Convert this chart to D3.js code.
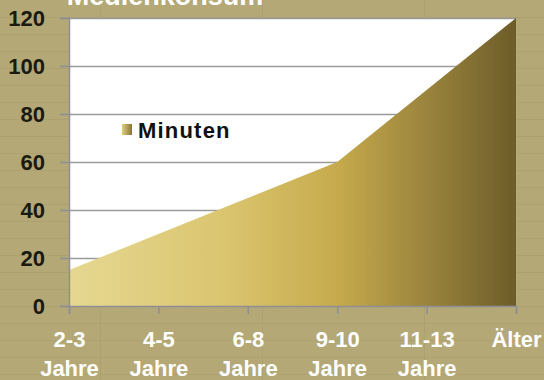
<!DOCTYPE html>
<html><head><meta charset="utf-8">
<script src="https://cdn.jsdelivr.net/npm/d3@7"></script>
<style>html,body{margin:0;padding:0;background:#b3a876;overflow:hidden}</style>
</head><body>
<script>
const categories = ["2-3|Jahre","4-5|Jahre","6-8|Jahre","9-10|Jahre","11-13|Jahre","Älter"];
const minuten = [15, 30, 45, 60, 90, 120];
const yTicks = [0, 20, 40, 60, 80, 100, 120];
const title = "Medienkonsum";
const seriesName = "Minuten";

const W = 544, H = 380;
const m = {l: 69, r: 28, t: 18, b: 74};
const svg = d3.select("body").append("svg").attr("width", W).attr("height", H);
const FONT = "'Liberation Sans', Arial, sans-serif";

// background spreadsheet grid
const bg = svg.append("g");
bg.append("rect").attr("width", W).attr("height", H).attr("fill", "#b3a876");
for (let y = 17; y < H; y += 17) bg.append("line").attr("x1",0).attr("x2",W).attr("y1",y+0.5).attr("y2",y+0.5).attr("stroke","#ada172").attr("stroke-width",1);
[100, 262, 424].forEach(x => bg.append("line").attr("x1",x+0.5).attr("x2",x+0.5).attr("y1",0).attr("y2",H).attr("stroke","#ada172"));

const x = d3.scalePoint().domain(categories).range([m.l, W - m.r]);
const y = d3.scaleLinear().domain([0, 120]).range([H - m.b, m.t]);

const defs = svg.append("defs");
const grad = defs.append("linearGradient").attr("id","g").attr("x1","0%").attr("x2","100%").attr("y1","0%").attr("y2","0%");
[[0,"#e6d891"],[0.35,"#dac56f"],[0.6,"#c7aa4d"],[0.8,"#9a843c"],[1,"#6d5c29"]].forEach(s=>grad.append("stop").attr("offset",s[0]).attr("stop-color",s[1]));
const grad2 = defs.append("linearGradient").attr("id","g2").attr("x1","0%").attr("x2","100%");
[[0,"#e0cf80"],[1,"#8a7430"]].forEach(s=>grad2.append("stop").attr("offset",s[0]).attr("stop-color",s[1]));

// plot area
svg.append("rect").attr("x", m.l).attr("y", m.t).attr("width", W - m.r - m.l).attr("height", H - m.b - m.t).attr("fill", "#fff");

// gridlines
svg.append("g").selectAll("line").data(yTicks.filter(d=>d>0)).join("line")
  .attr("x1", m.l).attr("x2", W - m.r).attr("y1", d => Math.round(y(d))+0.5).attr("y2", d => Math.round(y(d))+0.5)
  .attr("stroke", "#9a9a9a").attr("stroke-width", 1.5);

// area
const area = d3.area().x((d,i)=>x(categories[i])).y0(y(0)).y1(d=>y(d));
svg.append("path").datum(minuten).attr("d", area).attr("fill", "url(#g)");

// y axis
const ya = svg.append("g").attr("transform", `translate(${m.l},0)`)
  .call(d3.axisLeft(y).tickValues(yTicks).tickSize(9).tickPadding(15));
ya.select(".domain").attr("stroke","#8e8e96").attr("stroke-width",1.5);
ya.selectAll(".tick line").attr("stroke","#8e8e96").attr("stroke-width",1.5);
ya.selectAll("text").attr("fill","#1a1a10").attr("font-family",FONT)
  .attr("font-weight","bold").attr("font-size","22px").attr("dy","0.36em");

// x axis
const xa = svg.append("g").attr("transform", `translate(0,${H - m.b})`)
  .call(d3.axisBottom(x).tickSize(8).tickFormat(""));
xa.select(".domain").attr("stroke","#8e8e96").attr("stroke-width",1.5);
xa.selectAll(".tick line").attr("stroke","#8e8e96").attr("stroke-width",1.5);
xa.selectAll(".tick").each(function(d){
  const t = d3.select(this).append("text").attr("fill","#fff").attr("text-anchor","middle")
    .attr("font-family",FONT).attr("font-weight","bold").attr("font-size","22px");
  d.split("|").forEach((s,i)=>t.append("tspan").attr("x",0).attr("y", 41 + i*29).text(s));
});

// legend
svg.append("rect").attr("x",122).attr("y",124).attr("width",10).attr("height",11).attr("fill","url(#g2)");
svg.append("text").attr("x",138).attr("y",138).text(seriesName).attr("fill","#111")
  .attr("font-family",FONT).attr("font-weight","bold").attr("font-size","22px").attr("letter-spacing","1.2px");

// title (cut off at top, as in the reference)
svg.append("text").attr("x",165).attr("y",5).attr("text-anchor","middle").text(title).attr("fill","#fff")
  .attr("font-family",FONT).attr("font-weight","bold").attr("font-size","27px");
</script>
</body></html>
